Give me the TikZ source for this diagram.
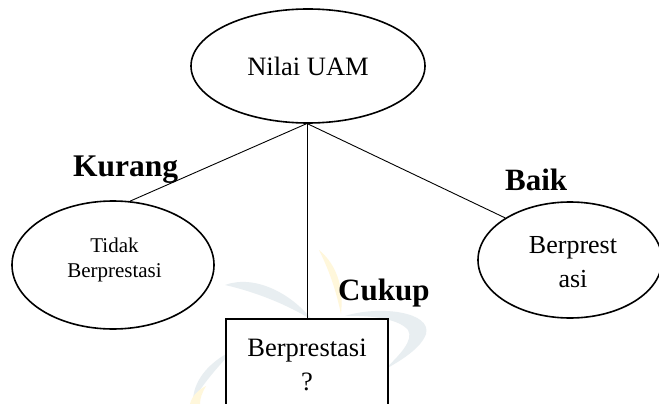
\documentclass[tikz,border=0pt]{standalone}
\usepackage{fontspec}
\setmainfont{Liberation Serif}
\usetikzlibrary{shapes.geometric}

\tikzset{
  oval/.style={ellipse, draw, line width=1.6pt, fill=white, inner sep=0pt},
  answerbox/.style={rectangle, draw, line width=1.6pt, fill=white, inner sep=0pt},
  branch/.style={line width=0.9pt},
  branchlabel/.style={font=\fontsize{31.5}{36}\selectfont\bfseries, anchor=base west, inner sep=0pt},
  bodytext/.style={align=center, inner sep=0pt},
  markblue/.style={fill=cyan!25!gray!16, draw=none},
  markgold/.style={fill=yellow!60!orange!13, draw=none}
}

\begin{document}
\begin{tikzpicture}[x=1pt, y=-1pt]
  \useasboundingbox (0,0) rectangle (659,404);
  \clip (0,0) rectangle (659,404);
  \fill[white] (0,0) rectangle (659,404);

  % faint logo behind the tree
  \path[markblue] (225,285) .. controls (255,274) and (292,294) .. (312,320)
                  .. controls (288,305) and (256,292) .. (225,285) -- cycle;
  \path[markblue] (193,400) .. controls (194,378) and (212,360) .. (234,350)
                  .. controls (217,367) and (205,382) .. (193,400) -- cycle;
  \path[markblue] (345,316) .. controls (380,305) and (432,312) .. (426,334)
                  .. controls (421,348) and (402,360) .. (384,370)
                  .. controls (400,355) and (414,340) .. (408,330)
                  .. controls (400,320) and (375,315) .. (345,316) -- cycle;
  \path[markgold] (319,250) .. controls (336,264) and (344,286) .. (341,314)
                  .. controls (336,290) and (329,270) .. (319,250) -- cycle;
  \path[markgold] (190,404) .. controls (192,396) and (198,390) .. (206,386)
                  .. controls (202,393) and (200,398) .. (200,404) -- cycle;

  % nodes
  \node[oval, minimum width=234pt, minimum height=114pt] (root) at (308,66)
    {\fontsize{26.5}{30}\selectfont Nilai UAM};
  \node[oval, minimum width=202pt, minimum height=128pt] (low) at (113,265) {};
  \node[oval, minimum width=184pt, minimum height=116pt] (high) at (570,260) {};
  \node[answerbox, minimum width=162pt, minimum height=100pt, anchor=north] (mid) at (307,318) {};

  % node texts
  \node[bodytext, font=\fontsize{21}{25}\selectfont] (lowtext) at (114.5,259.6)
    {Tidak\\Berprestasi};
  \node[bodytext, font=\fontsize{26}{34}\selectfont] (hightext) at (573,262)
    {Berprest\\asi};
  \node[bodytext, font=\fontsize{26.5}{34}\selectfont] (midtext) at (307,365)
    {Berprestasi\\?};

  % branches
  \coordinate (fork) at (307,123.5);
  \draw[branch] (fork) -- (low.75);
  \draw[branch] (fork) -- (high.147);
  \draw[branch] (fork) -- (mid.north);

  % branch labels
  \node[branchlabel] (kurang) at (73,176.7) {Kurang};
  \node[branchlabel, font=\fontsize{31}{36}\selectfont\bfseries] (baik) at (505,190) {Baik};
  \node[branchlabel, font=\fontsize{31}{36}\selectfont\bfseries] (cukup) at (338,300) {Cukup};
\end{tikzpicture}
\end{document}
